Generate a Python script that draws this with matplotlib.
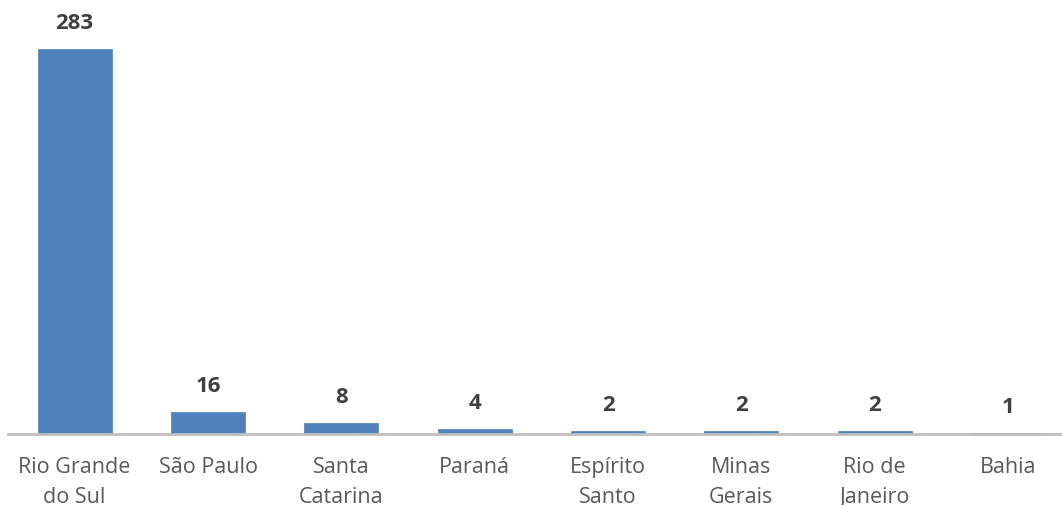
import matplotlib
matplotlib.use('Agg')
import matplotlib.pyplot as plt

states = ['Rio Grande\ndo Sul', 'São Paulo', 'Santa\nCatarina', 'Paraná',
          'Espírito\nSanto', 'Minas\nGerais', 'Rio de\nJaneiro', 'Bahia']
counts = [283, 16, 8, 4, 2, 2, 2, 1]

plt.rcParams['font.family'] = ['Open Sans', 'DejaVu Sans']

fig = plt.figure(figsize=(10.62, 5.06), dpi=100)
ax = fig.add_axes([8 / 1062, 71 / 506, 1054 / 1062, 408 / 506])

x = list(range(len(states)))
bars = ax.bar(x, counts, width=0.555, color='#4f81bd', edgecolor='#4f81bd', linewidth=0.5)

# value labels above each bar
for rect, val in zip(bars, counts):
    ax.annotate(str(val), (rect.get_x() + rect.get_width() / 2, rect.get_height()),
                xytext=(0, 19), textcoords='offset points', ha='center', va='center',
                fontsize=16, fontweight='bold', color='#404040')

ax.set_xlim(-0.5, 7.404)
ax.set_ylim(0, 300)
ax.set_xticks(x)
ax.set_xticklabels(states, fontsize=15.5, color='#595959', linespacing=1.55)
ax.tick_params(axis='x', length=0, pad=16)
ax.set_yticks([])

for side in ['top', 'right', 'left']:
    ax.spines[side].set_visible(False)
ax.spines['bottom'].set_color('#bfbfbf')
ax.spines['bottom'].set_linewidth(2)

fig.savefig('out.png', dpi=100)
